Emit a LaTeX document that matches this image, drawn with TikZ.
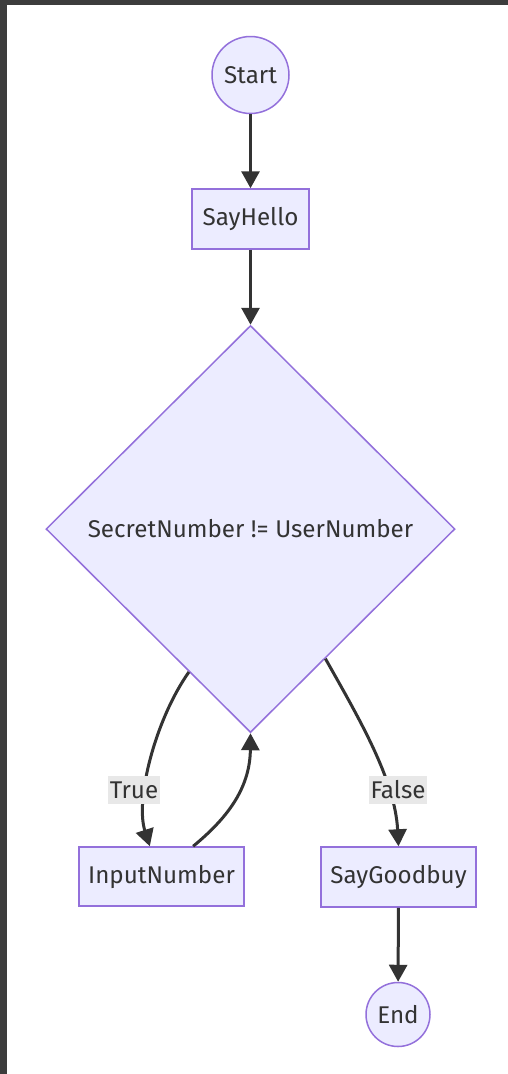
\documentclass[tikz,border=0pt]{standalone}
\usepackage{fontspec}
\setmainfont{Fira Sans}
\usetikzlibrary{shapes.geometric,arrows.meta,calc}
\definecolor{nodefill}{HTML}{ECECFF}
\definecolor{nodeline}{HTML}{9370DB}
\definecolor{ink}{HTML}{333333}
\definecolor{labelbg}{HTML}{E8E8E8}
\definecolor{frame}{HTML}{3C3C3C}
\tikzset{
  base/.style={draw=nodeline, fill=nodefill, line width=1.5pt, text=ink,
    font=\fontsize{24.2}{28}\selectfont, inner sep=0pt},
  roundnode/.style={base, circle},
  boxnode/.style={base, rectangle},
  decision/.style={base, diamond, aspect=1},
  flow/.style={draw=ink, line width=3pt,
    -{Triangle[width=18pt,length=17pt]}},
  edgelabel/.style={fill=labelbg, text=ink, inner sep=2pt,
    font=\fontsize{24.2}{28}\selectfont, minimum width=50pt, minimum height=28pt}
}
\begin{document}
\begin{tikzpicture}[x=1pt, y=-1pt]
  % page frame
  \fill[frame] (0,0) rectangle (508,1074);
  \fill[white] (7,5) rectangle (508,1074);
  \useasboundingbox (0,0) rectangle (508,1074);

  % nodes
  \node[roundnode, minimum size=77pt] (start) at (250.5,75) {Start};
  \node[boxnode, minimum width=117pt, minimum height=60pt] (hello) at (250.5,219) {SayHello};
  \node[decision, minimum width=409pt, minimum height=407pt] (check) at (250.5,529)
    {SecretNumber != UserNumber};
  \node[boxnode, minimum width=165pt, minimum height=59pt] (input) at (161.5,876.5) {InputNumber};
  \node[boxnode, minimum width=155pt, minimum height=60pt] (bye) at (398.5,877) {SayGoodbuy};
  \node[roundnode, minimum size=64pt] (end) at (398,1014.5) {End};

  % points where the branches meet their boxes
  \coordinate (trueout) at ($(check.west)!0.7!(check.south)$);
  \coordinate (falseout) at ($(check.east)!0.635!(check.south)$);
  \coordinate (inputtop) at ($(input.north west)!0.43!(input.north east)$);
  \coordinate (inputback) at ($(input.north west)!0.69!(input.north east)$);

  % connectors
  \draw[flow] (start) -- (hello);
  \draw[flow] (hello.south) -- (check.north);
  \draw[flow] (trueout) .. controls (155,720) and (135,800) .. (inputtop);
  \draw[flow] (inputback) .. controls (225,820) and (250,790) .. (check.south);
  \draw[flow] (falseout) .. controls (360,720) and (395,780) .. (bye.north);
  \draw[flow] (bye) -- (end);

  % branch labels
  \node[edgelabel] (truelbl) at (134,790) {True};
  \node[edgelabel] (falselbl) at (398,790) {False};
\end{tikzpicture}
\end{document}
